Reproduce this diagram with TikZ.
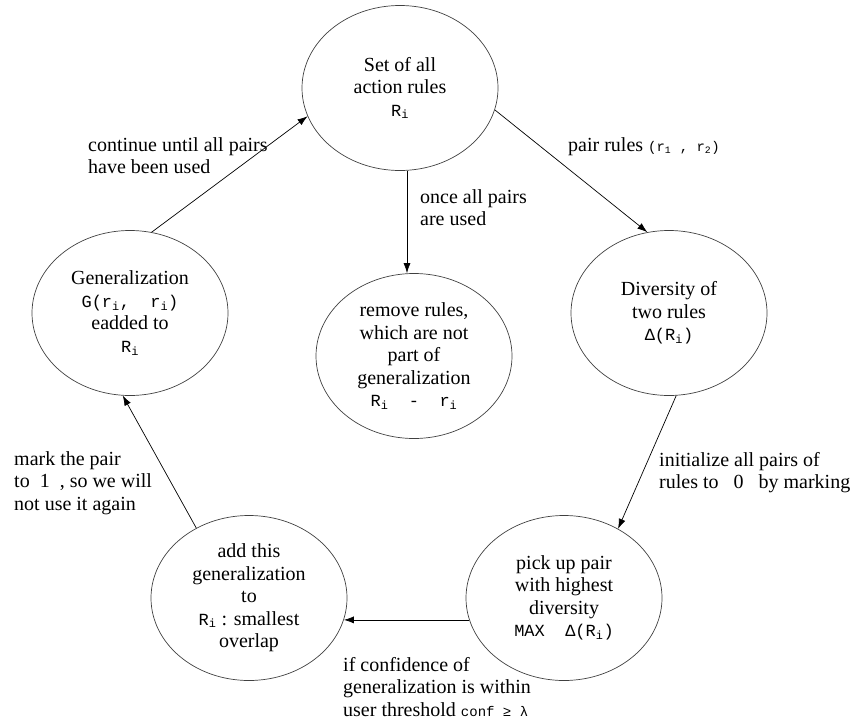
\documentclass[tikz,border=0pt]{standalone}
\usepackage{fontspec}
\setmainfont{Liberation Serif}
\newfontfamily\monofont{Liberation Mono}
\usetikzlibrary{positioning}
\usetikzlibrary{shapes.geometric, arrows.meta}
\tikzstyle{arrow} = [line width=0.7pt,-{Latex[length=10pt,width=7pt]}]
\tikzstyle{stage} = [draw=black!75, line width=0.7pt, ellipse, minimum width=196pt, minimum height=165pt, inner sep=0pt, align=center, font=\fontsize{20}{22.5}\selectfont]
\tikzstyle{note} = [anchor=north west, inner sep=0pt, align=left, font=\fontsize{20}{22.5}\selectfont]
\newcommand{\Ri}{{\fontsize{17}{20}\monofont R\textsubscript{i}}}
\newcommand{\ri}{{\fontsize{17}{20}\monofont r\textsubscript{i}}}
\newcommand{\mtxt}[1]{{\fontsize{17}{20}\monofont #1}}
\newcommand{\stxt}[1]{{\fontsize{14}{16}\monofont #1}}

\begin{document}
\begin{tikzpicture}[x=1pt,y=-1pt]
  \useasboundingbox (0,0) rectangle (852,723);
  % the six stages
  \node[stage] (set) at (400,88) {Set of all\\action rules\\\Ri};
  \node[stage] (gen) at (130,313) {Generalization\\\mtxt{G(}\ri\mtxt{,\ \ }\ri\mtxt{)}\\eadded to\\\Ri};
  \node[stage] (remove) at (414,356) {remove rules,\\which are not\\part of\\generalization\\\Ri\mtxt{\ \ -\ \ }\ri};
  \node[stage] (diversity) at (669,313) {Diversity of\\two rules\\\mtxt{Δ(}\Ri\mtxt{)}};
  \node[stage] (pick) at (564,598) {pick up pair\\with highest\\diversity\\\mtxt{MAX\ \ Δ(}\Ri\mtxt{)}};
  \node[stage] (add) at (249,598) {add this\\generalization\\to\\\Ri\ : smallest\\overlap};
  % transitions
  \draw[arrow] (set.-13) -- (diversity.105);
  \draw[arrow] ([xshift=7]set.south) -- ([xshift=-7]remove.north);
  \draw[arrow] (diversity.-85) -- (pick.52);
  \draw[arrow] (pick.193.7) -- (add.-13.7);
  \draw[arrow] (add.127) -- (gen.-95);
  \draw[arrow] (gen.75) -- (set.197);
  % labels
  \node[note] (lblcont) at (88,137) {continue until all pairs\\have been used};
  \node[note] (lblpair) at (568,137) {pair rules \stxt{(r\textsubscript{1}\ ,\ r\textsubscript{2})}};
  \node[note] (lblonce) at (420,189) {once all pairs\\are used};
  \node[note] (lblinit) at (659,452) {initialize all pairs of\\rules to~~~0~~~by marking};
  \node[note] (lblmark) at (14,451) {mark the pair\\to~~1~~, so we will\\not use it again};
  \node[note] (lblconf) at (343,657) {if confidence of\\generalization is within\\user threshold \stxt{conf ≥ λ}};
\end{tikzpicture}
\end{document}
